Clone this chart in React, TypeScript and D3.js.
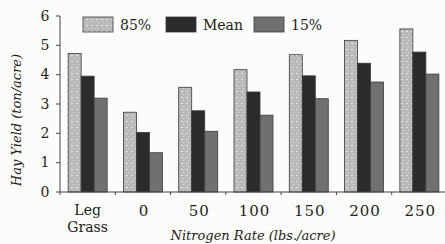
import React from 'react';
import * as d3 from 'd3';

const categories = ['Leg Grass', '0', '50', '100', '150', '200', '250'];
const series = ['85%', 'Mean', '15%'];
const p85 = [4.72, 2.72, 3.57, 4.17, 4.68, 5.17, 5.56];
const mean = [3.95, 2.03, 2.77, 3.41, 3.96, 4.39, 4.77];
const p15 = [3.2, 1.34, 2.07, 2.62, 3.18, 3.75, 4.02];
const yTicks = [0, 1, 2, 3, 4, 5, 6];

const fills = ['url(#dots)', '#2b2b2b', '#707070'];
const W = 445;
const H = 244;
const serif = "'DejaVu Serif', serif";

const App = () => {
  const x = d3.scaleBand().domain(categories).range([60, 447]).paddingInner(0).paddingOuter(0);
  const inner = d3.scaleBand().domain(series).range([0, 39]);
  const y = d3.scaleLinear().domain([0, 6]).range([192, 16]);
  const values = [p85, mean, p15];
  const off = (x.bandwidth() - 39) / 2;
  const ts = { fontFamily: serif, fill: '#222' };

  return (
    <svg width={W} height={H} style={{ position: 'absolute', left: 0, top: 0, background: '#fcfcfa' }}>
      <defs>
        <pattern id="dots" width="5" height="6" patternUnits="userSpaceOnUse">
          <rect width="5" height="6" fill="#b9b9b9" />
          <rect x="1" y="1" width="2" height="1" fill="#e8e8e8" />
          <rect x="3" y="4" width="1" height="1" fill="#dcdcdc" />
        </pattern>
      </defs>

      {/* bars */}
      {series.map((s, si) =>
        categories.map((c, ci) => (
          <rect key={s + c}
            x={(x(c) ?? 0) + off + (inner(s) ?? 0)}
            y={y(values[si][ci])}
            width={inner.bandwidth()}
            height={y(0) - y(values[si][ci])}
            fill={fills[si]} stroke="#3a3a3a" strokeWidth={0.8} />
        ))
      )}

      {/* y axis */}
      <line x1={60} x2={60} y1={y(6)} y2={y(0)} stroke="#444" />
      {yTicks.map(t => (
        <g key={t}>
          <line x1={56} x2={60} y1={y(t)} y2={y(t)} stroke="#444" />
          <text x={45} y={y(t) + 4.5} textAnchor="middle" fontSize={14} style={ts}>{t}</text>
        </g>
      ))}

      {/* x axis */}
      <line x1={60} x2={447} y1={y(0)} y2={y(0)} stroke="#444" />
      {categories.map(c => (
        <line key={c} x1={x(c)} x2={x(c)} y1={y(0)} y2={y(0) + 3} stroke="#444" />
      ))}
      {categories.map(c => {
        const cx = (x(c) ?? 0) + x.bandwidth() / 2;
        if (c === 'Leg Grass') {
          return (
            <g key={c}>
              <text x={cx} y={215} textAnchor="middle" fontSize={14} style={ts}>Leg</text>
              <text x={cx} y={232} textAnchor="middle" fontSize={14} style={ts}>Grass</text>
            </g>
          );
        }
        return (
          <text key={c} x={cx + 1} y={216} textAnchor="middle" fontSize={15} letterSpacing={1} style={ts}>{c}</text>
        );
      })}

      {/* axis titles */}
      <text x={253} y={240} textAnchor="middle" fontSize={13} fontStyle="italic" style={ts}>Nitrogen Rate (lbs./acre)</text>
      <text transform={`translate(21, ${120}) rotate(-90)`} textAnchor="middle" fontSize={13} fontStyle="italic" style={ts}>Hay Yield (ton/acre)</text>

      {/* legend */}
      {series.map((s, i) => {
        const lx = [83, 166, 254][i];
        return (
          <g key={s}>
            <rect x={lx} y={17} width={30} height={15} fill={fills[i]} stroke="#3a3a3a" strokeWidth={0.8} />
            <text x={lx + 37} y={29.5} fontSize={14} style={ts}>{s}</text>
          </g>
        );
      })}
    </svg>
  );
};

export default App;
